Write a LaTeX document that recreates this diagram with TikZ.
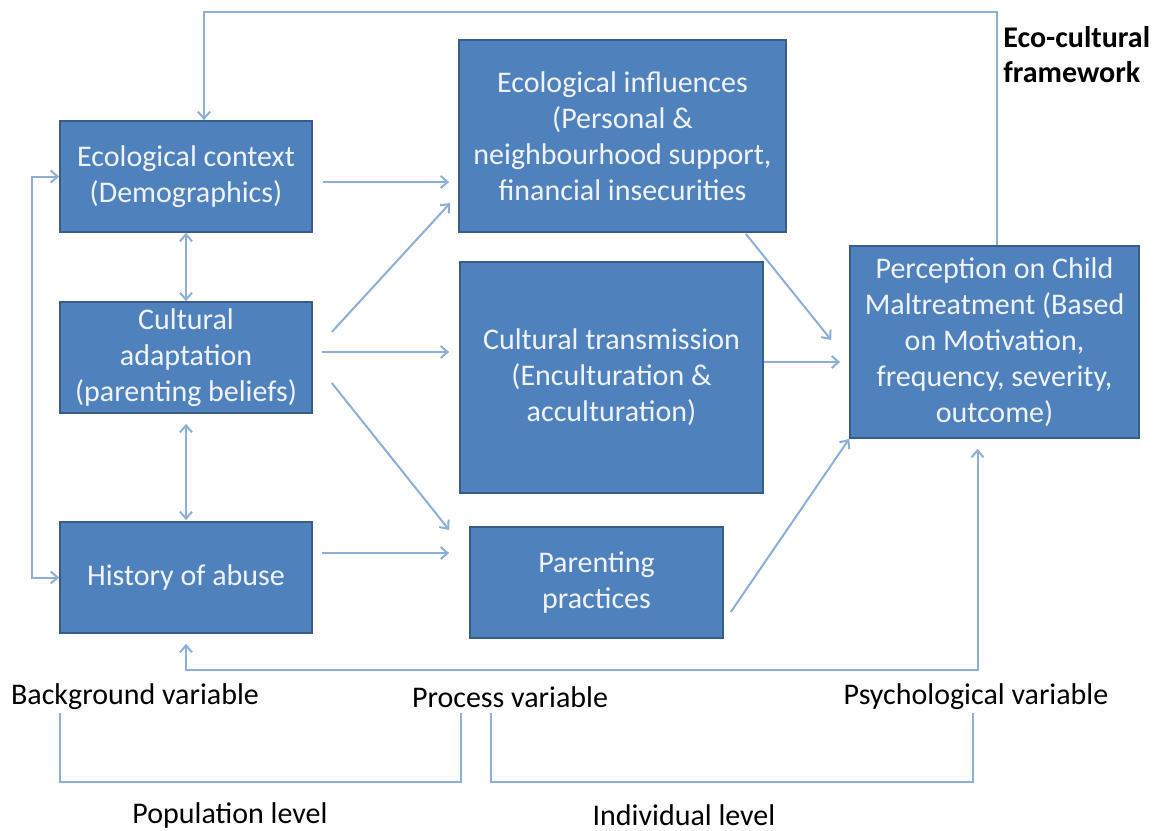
\documentclass[tikz,border=0pt]{standalone}
\usepackage{fontspec}
\setmainfont{Carlito}
\usetikzlibrary{arrows.meta,calc}
\definecolor{boxfill}{RGB}{79,129,189}
\definecolor{boxline}{RGB}{56,93,138}
\definecolor{conncol}{RGB}{140,175,215}
\definecolor{boxtext}{RGB}{240,243,248}
\begin{document}
\begin{tikzpicture}[x=0.5pt,y=-0.5pt,
  box/.style={draw=boxline, line width=0.8pt, fill=boxfill, text=boxtext, align=center,
    inner sep=1pt, font=\fontsize{15pt}{18pt}\selectfont},
  lbl/.style={font=\fontsize{15pt}{18pt}\selectfont, text=black, inner sep=0pt},
  conn/.style={draw=conncol, line width=1pt, -{Straight Barb[length=3.5pt,width=6pt]}},
  conntwo/.style={draw=conncol, line width=1pt, {Straight Barb[length=3.5pt,width=6pt]}-{Straight Barb[length=3.5pt,width=6pt]}},
  brk/.style={draw=conncol, line width=1pt}]
\useasboundingbox (0,0) rectangle (1167,830);
% boxes
\node[box, minimum width=126pt, minimum height=55.5pt] (ec) at (186,176.5) {Ecological context\\(Demographics)};
\node[box, minimum width=126pt, minimum height=55.5pt] (ca) at (186,357.5) {Cultural\\adaptation\\(parenting beliefs)};
\node[box, minimum width=126pt, minimum height=55.5pt] (ha) at (186,577.5) {History of abuse};
\node[box, minimum width=163.5pt, minimum height=96pt] (ei) at (622.5,136) {Ecological influences\\(Personal \&\\neighbourhood support,\\financial insecurities};
\node[box, minimum width=151.5pt, minimum height=115.5pt] (ct) at (611.5,377.5) {Cultural transmission\\(Enculturation \&\\acculturation)};
\node[box, minimum width=126.5pt, minimum height=55.5pt] (pp) at (596.5,582.5) {Parenting\\practices};
\node[box, minimum width=144.5pt, minimum height=96pt] (pc) at (994.5,342) {Perception on Child\\Maltreatment (Based\\on Motivation,\\frequency, severity,\\outcome)};
% labels
\node[lbl, anchor=west, align=left, font=\fontsize{15pt}{17.5pt}\selectfont\bfseries] (ecf) at (1003,55) {Eco-cultural\\framework};
\node[lbl] (bg) at (135,697) {Background variable};
\node[lbl] (pv) at (510,697) {Process variable};
\node[lbl] (psy) at (976,697) {Psychological variable};
\node[lbl] (pop) at (230,815) {Population level};
\node[lbl] (ind) at (684,815) {Individual level};
% connectors
\draw[conn] ($(pc.north)+(2,0)$) -- ++(0,-233) -| ($(ec.north)+(18,0)$);
\draw[conntwo] (ec.west) -- ++(-27,0) |- (ha.west);
\draw[conntwo] (ec.south) -- (ca.north);
\draw[conntwo] ($(ca.south)+(0,10)$) -- ($(ha.north)+(0,-1)$);
\draw[conn] ($(ec.east)+(10,5.5)$) -- ($(ei.west)+(-9,46)$);
\draw[conn] ($(ca.east)+(19,-25.5)$) -- ($(ei.west)+(-8,67)$);
\draw[conn] ($(ca.east)+(9,-5.5)$) -- ($(ct.west)+(-10,-25.5)$);
\draw[conn] ($(ca.east)+(19,25.5)$) -- ($(pp.west)+(-20,-52.5)$);
\draw[conn] ($(ha.east)+(9,-24.5)$) -- ($(pp.west)+(-20,-29.5)$);
\draw[conn] ($(ei.south east)+(-41,1)$) -- ($(pc.west)+(-18,-2)$);
\draw[conn] ($(ct.east)+(0,-15.5)$) -- ($(pc.west)+(-9,20)$);
\draw[conn] ($(pp.east)+(7,29.5)$) -- (pc.south west);
\draw[conntwo] ($(ha.south)+(0,10)$) -- ++(0,26) -| ($(pc.south)+(-17,10)$);
% brackets
\draw[brk] (60,713) -- (60,782) -- (461,782) -- (461,713);
\draw[brk] (491,713) -- (491,782) -- (973,782) -- (973,713);
\end{tikzpicture}
\end{document}
